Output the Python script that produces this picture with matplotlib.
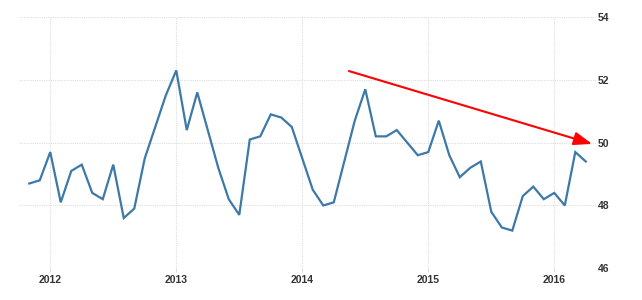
import matplotlib
matplotlib.use("Agg")
import matplotlib.pyplot as plt

# Monthly values Nov 2011 .. Apr 2016
start_year = 2011
start_month = 11
values = [
    48.7, 48.8,                                                        # 2011 Nov-Dec
    49.7, 48.1, 49.1, 49.3, 48.4, 48.2, 49.3, 47.6, 47.9, 49.5, 50.5, 51.5,  # 2012
    52.3, 50.4, 51.6, 50.4, 49.2, 48.2, 47.7, 50.1, 50.2, 50.9, 50.8, 50.5,  # 2013
    49.5, 48.5, 48.0, 48.1, 49.4, 50.7, 51.7, 50.2, 50.2, 50.4, 50.0, 49.6,  # 2014
    49.7, 50.7, 49.6, 48.9, 49.2, 49.4, 47.8, 47.3, 47.2, 48.3, 48.6, 48.2,  # 2015
    48.4, 48.0, 49.7, 49.4,                                            # 2016 Jan-Apr
]
x_ticks = [2012, 2013, 2014, 2015, 2016]
x_tick_labels = ["2012", "2013", "2014", "2015", "2016"]
y_ticks = [46, 48, 50, 52, 54]
y_tick_labels = ["46", "48", "50", "52", "54"]
trend_start = (2014.37, 52.28)
trend_end = (2016.30, 49.96)

xs = [start_year + (start_month - 1 + i) / 12 for i in range(len(values))]

plt.rcParams['font.family'] = ['Liberation Sans', 'DejaVu Sans']
fig = plt.figure(figsize=(6.42, 3.0), dpi=100)
ax = fig.add_axes([19 / 642, 1 - 268.3 / 300, (596 - 19) / 642, (268.3 - 17) / 300])

ax.plot(xs, values, color="#3d79a8", linewidth=1.6, solid_joinstyle="miter", zorder=3)

ax.annotate("", xy=trend_end, xytext=trend_start,
            arrowprops=dict(arrowstyle="-|>,head_length=1.1,head_width=0.4",
                            color="#ff0000", linewidth=1.5, shrinkA=0, shrinkB=0),
            zorder=4)

ax.set_xlim(2011.752, 2016.331)
ax.set_ylim(46, 54)
ax.set_xticks(x_ticks)
ax.set_xticklabels(x_tick_labels)
ax.set_yticks(y_ticks)
ax.set_yticklabels(y_tick_labels)
ax.yaxis.tick_right()
for s in ax.spines.values():
    s.set_visible(False)
ax.grid(True, color="#dedede", linestyle=(0, (1, 1)), linewidth=0.8)
ax.tick_params(axis="y", length=0, pad=1, labelsize=7.5, labelcolor="#333333")
ax.tick_params(axis="x", length=3, color="#dedede", pad=2, labelsize=7.5, labelcolor="#333333")
for lab in ax.get_xticklabels() + ax.get_yticklabels():
    lab.set_fontweight("bold")

fig.savefig("out.png", dpi=100)
